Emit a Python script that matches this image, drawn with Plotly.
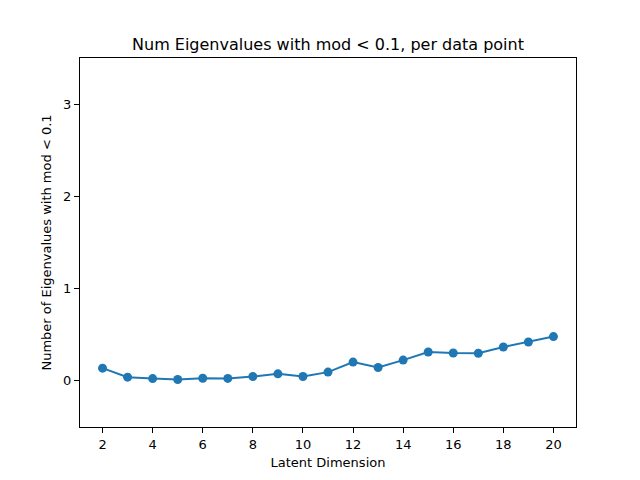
import plotly.graph_objects as go

latent_dims = list(range(2, 21))
num_small_eigs = [0.138, 0.040, 0.025, 0.015, 0.029, 0.027, 0.047, 0.076, 0.047, 0.095,
                  0.204, 0.145, 0.225, 0.313, 0.302, 0.300, 0.367, 0.422, 0.480]

fig = go.Figure(data=[
    go.Scatter(
        x=latent_dims,
        y=num_small_eigs,
        mode='lines+markers',
        line=dict(color='#1f77b4', width=2),
        marker=dict(color='#1f77b4', size=9),
    )
])

axis_style = dict(
    showline=True, linecolor='black', linewidth=1, mirror=True,
    ticks='outside', ticklen=5, tickcolor='black',
    showgrid=False, zeroline=False,
    tickfont=dict(size=13, color='black'),
    title_font=dict(size=13, color='black'),
)

# the page puts the plot 8px in from the top-left corner, so margins are shifted
fig.update_layout(
    width=640, height=480,
    paper_bgcolor='white', plot_bgcolor='white',
    font=dict(family='DejaVu Sans', color='black'),
    margin=dict(l=72, r=72, t=50, b=61),
    showlegend=False,
    title=dict(text='Num Eigenvalues with mod < 0.1, per data point',
               x=0.5, xanchor='center', xref='paper',
               y=1, yref='paper', yanchor='bottom', pad=dict(b=8),
               font=dict(size=16, color='black')),
    xaxis=dict(axis_style, range=[1.1, 20.9], tickvals=list(range(2, 21, 2)),
               title=dict(text='Latent Dimension', standoff=7)),
    yaxis=dict(axis_style, range=[-0.5, 3.5], tickvals=[0, 1, 2, 3],
               title=dict(text='Number of Eigenvalues with mod < 0.1', standoff=8)),
)

fig.write_html("out.html")
